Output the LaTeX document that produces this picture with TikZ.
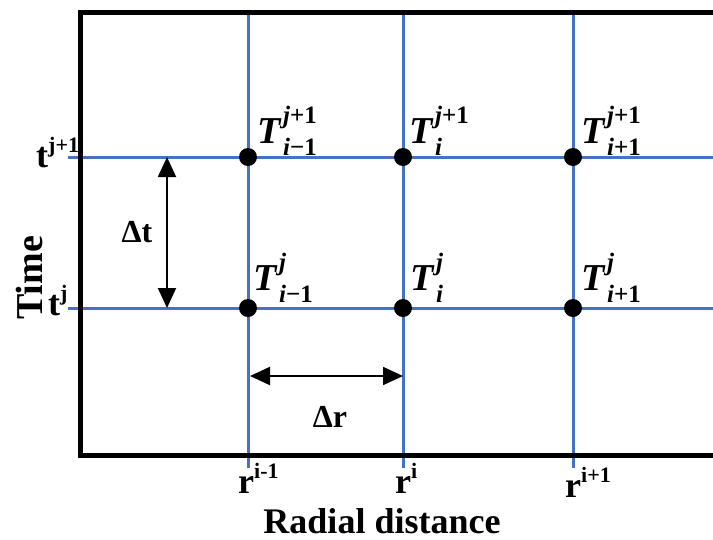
\documentclass[tikz,border=0pt]{standalone}
\usepackage{fontspec}
\setmainfont{Liberation Serif}
\usetikzlibrary{arrows.meta}
\definecolor{gridblue}{RGB}{68,114,196}
\newcommand\supr[1]{\raisebox{15pt}{\fontsize{22}{24}\selectfont #1}}
\newcommand\scrp[1]{{\fontsize{25}{26}\selectfont\bfseries #1}}
\newcommand\Tlab[2]{\textbf{\textit{T}}\kern1.5pt\rlap{\raisebox{20pt}{\scrp{#1}}}\raisebox{-12pt}{\scrp{#2}}}
\begin{document}
\begin{tikzpicture}[x=1pt,y=-1pt,
  gridline/.style={gridblue,line width=3pt},
  dot/.style={circle,fill=black,inner sep=0pt,minimum size=18pt},
  tlabel/.style={anchor=base west,inner sep=0pt,font=\fontsize{38}{40}\selectfont},
  axlabel/.style={inner sep=0pt,font=\bfseries\fontsize{36}{40}\selectfont},
  dimlabel/.style={inner sep=0pt,anchor=base,font=\bfseries\fontsize{32}{36}\selectfont},
  dimarrow/.style={line width=2pt,{Triangle[length=20pt,width=18pt]}-{Triangle[length=20pt,width=18pt]}}]
\useasboundingbox (0,0) rectangle (713,539);
% grid line end points
\coordinate (vaT) at (248,13);  \coordinate (vaB) at (248,468);
\coordinate (vbT) at (403,13);  \coordinate (vbB) at (403,468);
\coordinate (vcT) at (573,13);  \coordinate (vcB) at (573,468);
\coordinate (haL) at (68,157);  \coordinate (haR) at (713,157);
\coordinate (hbL) at (68,308);  \coordinate (hbR) at (713,308);
\draw[gridline] (vaT) -- (vaB);
\draw[gridline] (vbT) -- (vbB);
\draw[gridline] (vcT) -- (vcB);
\draw[gridline] (haL) -- (haR);
\draw[gridline] (hbL) -- (hbR);
% frame
\coordinate (fTR) at (713,12.5);
\coordinate (fTL) at (80,12.5);
\coordinate (fBL) at (80,455);
\coordinate (fBR) at (713,455);
\draw[line width=5pt,line join=miter] (fTR) -- (fTL) -- (fBL) -- (fBR);
% grid points
\node[dot] (p11) at (248,157) {};
\node[dot] (p21) at (403,157) {};
\node[dot] (p31) at (573,157) {};
\node[dot] (p10) at (248,308) {};
\node[dot] (p20) at (403,308) {};
\node[dot] (p30) at (573,308) {};
% T labels
\node[tlabel] (T11) at (257,143) {\Tlab{\textit{j}+1}{\textit{i}−1}};
\node[tlabel] (T21) at (409,143) {\Tlab{\textit{j}+1}{\textit{i}}};
\node[tlabel] (T31) at (581,143) {\Tlab{\textit{j}+1}{\textit{i}+1}};
\node[tlabel] (T10) at (253,290) {\Tlab{\textit{j}}{\textit{i}−1}};
\node[tlabel] (T20) at (410,290) {\Tlab{\textit{j}}{\textit{i}}};
\node[tlabel] (T30) at (581,290) {\Tlab{\textit{j}}{\textit{i}+1}};
% dimension arrows
\coordinate (dtA) at (167,157);
\coordinate (dtB) at (167,308);
\draw[dimarrow] (dtA) -- (dtB);
\node[dimlabel] (dt) at (137,242) {Δt};
\coordinate (drA) at (250,376);
\coordinate (drB) at (403,376);
\draw[dimarrow] (drA) -- (drB);
\node[dimlabel] (dr) at (330,427) {Δr};
% axis tick labels
\node[axlabel,anchor=base west] (tj1) at (36,167) {t\supr{j+1}};
\node[axlabel,anchor=base west] (tj) at (48,315) {t\supr{j}};
\node[axlabel,anchor=base west] (ri1) at (238,493) {r\supr{i-1}};
\node[axlabel,anchor=base west] (ri) at (395,493) {r\supr{i}};
\node[axlabel,anchor=base west] (ri2) at (565,497) {r\supr{i+1}};
% axis titles
\node[axlabel,anchor=base] (xtitle) at (382,533) {Radial distance};
\node[axlabel,anchor=base,rotate=90,font=\bfseries\fontsize{38}{42}\selectfont] (ytitle) at (42,278) {Time};
\end{tikzpicture}
\end{document}
